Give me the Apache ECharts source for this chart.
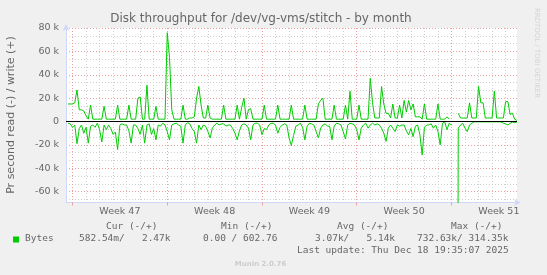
<!DOCTYPE html>
<html><head><meta charset="utf-8">
<script src="https://cdn.jsdelivr.net/npm/echarts@6/dist/echarts.min.js"></script>
<style>html,body{margin:0;padding:0;background:#f0f0f0;}#c{width:547px;height:275px;}</style>
</head><body><div id="c"></div>
<script>
// time axis: days counted from Monday 00:00 of week 47
const startDay = -1 / 3;      // first sample
const stepDays = 1 / 6;       // 4-hour samples
// write (+) in k bytes/s
const writeK = [
  15, 15, 15, 16, 27, 10, 10, 9, 5, 2,
  14, 2, 2, 2, 2, 2, 13, 2, 2, 2,
  2, 2, 14, 2, 2, 2, 2, 14, 2, 2,
  2, 20, 21, 2, 2, 31, 2, 2, 2, 13,
  2, 2, 2, 2, 76, 55, 10, 2, 2, 2,
  2, 14, 2, 2, 3, 3, 4, 20, 30, 14,
  3, 3, 14, 3, 2, 2, 2, 2, 2, 14,
  2, 2, 2, 2, 2, 14, 2, 12, 20, 2,
  10, 11, 2, 2, 2, 2, 2, 14, 2, 2,
  2, 2, 2, 14, 2, 2, 2, 2, 2, 14,
  2, 2, 2, 2, 2, 14, 2, 2, 2, 2,
  2, 15, 18, 20, 2, 2, 2, 2, 14, 2,
  2, 2, 2, 14, 2, 26, 2, 2, 2, 14,
  2, 2, 2, 2, 37, 16, 3, 3, 3, 30,
  15, 7, 7, 3, 15, 3, 3, 14, 3, 18,
  8, 18, 10, 15, 4, 4, 4, 2, 15, 2,
  2, 2, 2, 2, 15, 2, 2, 2, 4, 2,
  null, null, null, 7, 3, 3, 3, 3, 16, 3,
  3, 3, 30, 16, 16, 3, 3, 3, 3, 26,
  3, 3, 3, 3, 17, 17, 6, 7, 2, 1
];
// read (-) in k bytes/s
const readK = [
  -1.5, -2, -5, -3, -19, -6, -3, -10, -5, -18.5,
  -4, -3, -5, -1.5, -7, -17.5, -3, -7, -3, -6,
  -11, -9, -24, -3, -2, -3, -3, -8, -18.5, -3,
  -3, -6, -11, -3, -18.5, -3, -2, -11, -6, -15.7,
  -3, -4, -1.5, -3, -8.6, -15.7, -3, -2, -1.5, -3,
  -4, -18.5, -3, -1, -2, -6, -8.6, -18.5, -3, -7,
  -3, -4, -8.6, -14, -5.7, -3, -1.5, -3, -2, -2,
  -4, -3, -3, -6, -10, -15.7, -8, -3, -2, -3,
  -5.7, -15.7, -3, -1.5, -1.5, -3, -11.4, -6, -7, -3,
  -1.5, -1.5, -3, -10, -5, -3, -2, -3, -14, -20.5,
  -12, -4, -3, -1.5, -5, -15.7, -4, -1.5, -2, -3,
  -8.6, -14, -5.7, -3, -2, -4, -4, -15.7, -4, -1.5,
  -2, -3, -8.6, -15, -3, -1.5, -2, -3, -7, -15.7,
  -5.7, -3, -1.5, -5.7, -3, -1.5, -3, -2, -3, -5.7,
  -10, -17, -5.7, -3, -5.7, -8.6, -3, -4, -3, -3,
  -8, -11.4, -6, -13, -4, -3, -11.4, -28.6, -5, -3,
  -3, -2, -5.7, -3, -8.6, -20, -1.5, -0.3, -7, -1.5,
  -3, null, -732.6, -5.7, -3, -1.5, -5.7, -8.6, -3, -1.5,
  -0.3, -0.3, -0.3, -0.3, -0.3, -0.3, -0.3, -0.3, -0.3, -0.3,
  -0.3, -0.3, -0.3, -1.5, -2, -3, -1.5, -0.5, -1, -0.5
];
const weekLabels = ['Week 47', 'Week 48', 'Week 49', 'Week 50', 'Week 51'];
const weekMidDays = [3.5, 10.5, 17.5, 24.5, 31.5];
const mondayDays = [0, 7, 14, 21, 28];
const yMajorTicks = [-60, -40, -20, 0, 20, 40, 60, 80];
const legendHeaders = ['Cur (-/+)', 'Min (-/+)', 'Avg (-/+)', 'Max (-/+)'];
const legendValues = ['582.54m/   2.47k', '0.00 / 602.76', '3.07k/   5.14k', '732.63k/ 314.35k'];
const seriesName = 'Bytes';
const titleText = 'Disk throughput for /dev/vg-vms/stitch - by month';
const yName = 'Pr second read (-) / write (+)';
const lastUpdate = 'Last update: Thu Dec 18 19:35:07 2025';

const X_MIN = -0.48, X_MAX = 32.84, Y_MIN = -69.3, Y_MAX = 80;
const dayLines = [];
for (let d = 1; d <= 32; d++) if (d % 7 !== 0) dayLines.push(d);
const yMinor = [];
for (let k = -10; k <= 12; k++) if (k % 3 !== 0) yMinor.push(k * 20 / 3);

const toPairs = arr => arr.map((v, i) => [startDay + i * stepDays, v]);

const TXT = '#666666';
const SANS = 'DejaVu Sans';
const MONO = 'DejaVu Sans Mono';
const RED = '#eaa0a0', GREY = '#cfcfcf', AXIS = '#cfd6f8';

const chart = echarts.init(document.getElementById('c'), null, {renderer: 'canvas'});

const legendGraphics = [];
const headerX = [106, 221, 337, 451];
const valueX = [79, 203, 315, 417];
legendHeaders.forEach((t, i) => legendGraphics.push({type: 'text', left: headerX[i], top: 221.5,
  style: {text: t, font: '9.5px "' + MONO + '"', fill: TXT}}));
legendValues.forEach((t, i) => legendGraphics.push({type: 'text', left: valueX[i], top: 233.5,
  style: {text: t, font: '9.5px "' + MONO + '"', fill: TXT}}));

chart.setOption({
  animation: false,
  backgroundColor: '#f0f0f0',
  grid: {left: 66, top: 28, width: 451, height: 174.5, backgroundColor: '#ffffff', show: true, borderWidth: 0},
  xAxis: [{
    type: 'value', min: X_MIN, max: X_MAX, position: 'bottom',
    axisLine: {show: true, onZero: false, lineStyle: {color: AXIS, width: 1}, symbol: ['none', 'arrow'], symbolSize: [5, 7], symbolOffset: [0, 4]},
    axisTick: {show: true, customValues: mondayDays, length: 3, lineStyle: {color: RED}},
    splitLine: {show: true, lineStyle: {color: RED, type: [1, 2], width: 1}},
    axisLabel: {show: true, customValues: weekMidDays, margin: 4, color: TXT, fontFamily: SANS, fontSize: 9.5,
      formatter: v => weekLabels[weekMidDays.indexOf(v)] || ''}
  }, {
    type: 'value', min: X_MIN, max: X_MAX, position: 'bottom',
    axisLine: {show: false, onZero: false}, axisLabel: {show: false},
    axisTick: {show: false, customValues: dayLines},
    splitLine: {show: true, lineStyle: {color: GREY, type: [1, 2], width: 1}}
  }],
  yAxis: [{
    type: 'value', min: Y_MIN, max: Y_MAX, position: 'left',
    axisLine: {show: true, onZero: false, lineStyle: {color: AXIS, width: 1}, symbol: ['none', 'arrow'], symbolSize: [5, 7], symbolOffset: [0, 4]},
    axisTick: {show: false, customValues: yMajorTicks},
    splitLine: {show: true, lineStyle: {color: RED, type: [1, 2], width: 1}},
    axisLabel: {show: true, customValues: yMajorTicks, margin: 7, padding: [2, 0, 0, 0], color: TXT, fontFamily: SANS, fontSize: 9.5,
      formatter: v => v === 0 ? '0' : v + ' k'}
  }, {
    type: 'value', min: Y_MIN, max: Y_MAX, position: 'left',
    axisLine: {show: false, onZero: false}, axisLabel: {show: false},
    axisTick: {show: false, customValues: yMinor},
    splitLine: {show: true, lineStyle: {color: GREY, type: [1, 2], width: 1}}
  }],
  series: [{
    name: seriesName + ' write', type: 'line', xAxisIndex: 0, yAxisIndex: 0,
    data: toPairs(writeK), showSymbol: false, symbol: 'none', connectNulls: false,
    lineStyle: {color: '#00cc00', width: 1}, z: 3
  }, {
    name: seriesName + ' read', type: 'line', xAxisIndex: 0, yAxisIndex: 0,
    data: toPairs(readK), showSymbol: false, symbol: 'none', connectNulls: false,
    lineStyle: {color: '#00cc00', width: 1}, z: 3,
    markLine: {silent: true, symbol: 'none', label: {show: false}, z: 6,
      lineStyle: {color: '#000000', type: 'solid', width: 1}, data: [{yAxis: 0}]}
  }],
  graphic: [
    {type: 'text', x: 261, y: 19, style: {text: titleText, font: '12px "' + SANS + '"', fill: TXT, align: 'center', verticalAlign: 'middle'}},
    {type: 'text', x: 11, y: 115, rotation: Math.PI / 2, style: {text: yName, font: '11px "' + SANS + '"', fill: TXT, align: 'center', verticalAlign: 'middle'}},
    {type: 'text', x: 537, y: 53, rotation: -Math.PI / 2, style: {text: 'RRDTOOL / TOBI OETIKER', font: '7px "' + SANS + '"', fill: '#d4d4d4', align: 'center', verticalAlign: 'middle'}},
    {type: 'rect', shape: {x: 13, y: 236.5, width: 6, height: 6}, style: {fill: '#00cc00'}},
    {type: 'text', left: 25, top: 233.5, style: {text: seriesName, font: '9.5px "' + MONO + '"', fill: TXT}},
    {type: 'text', left: 297, top: 246, style: {text: lastUpdate, font: '9.5px "' + MONO + '"', fill: TXT}},
    {type: 'text', x: 260.5, y: 264.3, style: {text: 'Munin 2.0.76', font: 'bold 7px "' + SANS + '"', fill: '#cccccc', align: 'center', verticalAlign: 'middle'}}
  ].concat(legendGraphics)
});
</script></body></html>
